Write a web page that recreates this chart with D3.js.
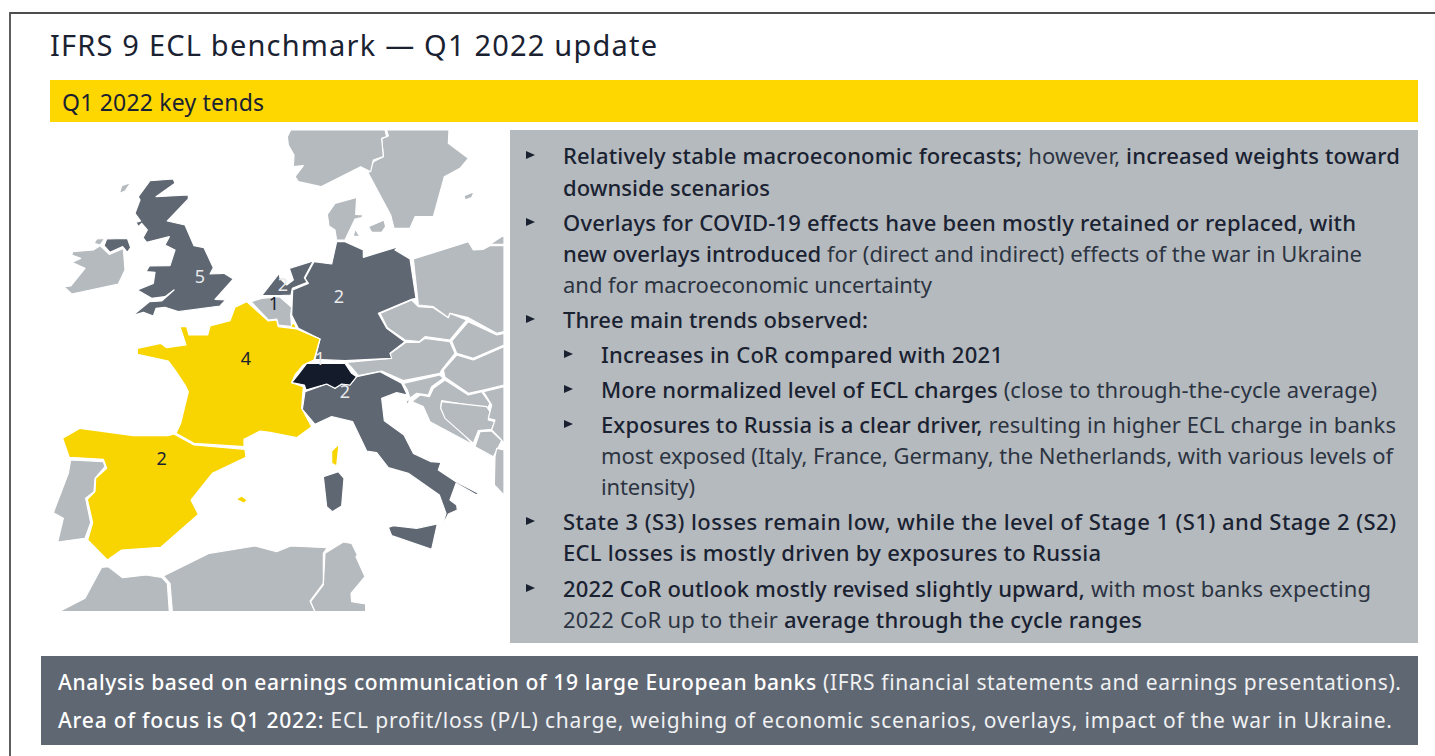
<!DOCTYPE html>
<html><head><meta charset="utf-8">
<script src="https://cdn.jsdelivr.net/npm/d3@7"></script>
<style>html,body{margin:0;padding:0;background:#fff;overflow:hidden}svg{display:block}</style>
</head><body><div id="chart"></div>
<script>
// --- Text content -------------------------------------------------------
const titleText = "IFRS 9 ECL benchmark — Q1 2022 update";
const subtitleText = "Q1 2022 key tends";
const bulletLines = [
  {level:1, first:true, parts:[["Relatively stable macroeconomic forecasts;",1],[" however, ",0],["increased weights toward",1]]},
  {level:1, parts:[["downside scenarios",1]]},
  {level:1, first:true, parts:[["Overlays for COVID-19 effects have been mostly retained or replaced, with",1]]},
  {level:1, parts:[["new overlays introduced",1],[" for (direct and indirect) effects of the war in Ukraine",0]]},
  {level:1, parts:[["and for macroeconomic uncertainty",0]]},
  {level:1, first:true, parts:[["Three main trends observed:",1]]},
  {level:2, first:true, parts:[["Increases in CoR compared with 2021",1]]},
  {level:2, first:true, parts:[["More normalized level of ECL charges",1],[" (close to through-the-cycle average)",0]]},
  {level:2, first:true, parts:[["Exposures to Russia is a clear driver,",1],[" resulting in higher ECL charge in banks",0]]},
  {level:2, parts:[["most exposed (Italy, France, Germany, the Netherlands, with various levels of",0]]},
  {level:2, parts:[["intensity)",0]]},
  {level:1, first:true, parts:[["State 3 (S3) losses remain low, while the level of Stage 1 (S1) and Stage 2 (S2)",1]]},
  {level:1, parts:[["ECL losses is mostly driven by exposures to Russia",1]]},
  {level:1, first:true, parts:[["2022 CoR outlook mostly revised slightly upward,",1],[" with most banks expecting",0]]},
  {level:1, parts:[["2022 CoR up to their ",0],["average through the cycle ranges",1]]}
];
const bulletBaselines = [164,196,231,262,293,328,363,398,433,464,495,530,561,597,628];
const bulletLineEnds = [1400,770,1356,1362,932,868,1003,1377,1396,1393,695,1396,1101,1371,1142];
const footerLines = [
  [["Analysis based on earnings communication of 19 large European banks",1],[" (IFRS financial statements and earnings presentations).",0]],
  [["Area of focus is Q1 2022:",1],[" ECL profit/loss (P/L) charge, weighing of economic scenarios, overlays, impact of the war in Ukraine.",0]]
];
const footerBaselines = [690,728];
const footerLineEnds = [1401,1392];

// --- Map data: outlines in map units, banks per country ------------------
const countryBanks = {UK:5, Netherlands:2, Belgium:1, Germany:2, France:4, Switzerland:1, Italy:2, Spain:2};
const labelSpots = [
  ["UK",450,455,"light"],["Netherlands",699,480,"light"],["Belgium",672,537,"dark"],["Germany",867,514,"light"],
  ["France",588,700,"dark"],["Switzerland",810,700,"light"],["Italy",885,800,"light"],["Spain",335,1000,"dark"]
];
const grey = [
 ["Ireland",[[68,380],[130,375],[150,362],[178,388],[220,370],[225,435],[205,477],[65,507],[42,485],[62,483],[105,430],[65,412],[92,400],[65,390]]],
 ["Donegal",[[140,342],[165,340],[150,360],[132,355]]],
 ["Hebrides",[[215,182],[243,172],[225,198],[208,206]]],
 ["Portugal",[[62,1005],[160,1010],[165,1025],[135,1060],[132,1100],[107,1120],[122,1193],[105,1240],[23,1251],[40,1180],[10,1163],[55,1045]]],
 ["Morocco",[[27,1460],[105,1420],[155,1327],[175,1325],[218,1358],[288,1350],[335,1357],[352,1375],[358,1460]]],
 ["Algeria",[[340,1353],[478,1285],[615,1263],[680,1280],[722,1263],[832,1268],[820,1285],[820,1375],[780,1428],[795,1460],[367,1460],[360,1375]]],
 ["Tunisia",[[825,1285],[880,1251],[905,1255],[922,1290],[918,1295],[945,1355],[903,1405],[905,1430],[947,1437],[947,1460],[795,1460],[782,1430],[820,1380]]],
 ["Belgium",[[603,530],[635,520],[688,515],[725,547],[722,570],[725,605],[685,600],[680,582],[655,585]]],
 ["Denmark",[[855,235],[920,217],[917,268],[940,270],[935,278],[915,282],[885,345],[860,345],[855,315],[837,303],[832,268]]],
 ["Zealand",[[955,305],[1002,285],[1007,305],[995,322],[965,322]]],
 ["Funen",[[915,312],[930,335],[910,333]]],
 ["Sweden",[[1010,15],[1197,15],[1195,55],[1255,100],[1230,130],[1183,155],[1150,275],[1095,275],[1080,310],[1032,310],[1022,270],[955,145],[970,110],[1000,95],[995,40],[1015,33]]],
 ["Norway",[[722,15],[1005,15],[1010,35],[995,40],[1000,95],[970,105],[962,140],[932,125],[813,185],[745,170],[735,155],[760,122],[730,125],[732,90],[715,60],[712,35]]],
 ["Gotland",[[1242,212],[1272,200],[1265,218],[1245,225]]],
 ["Poland",[[1090,402],[1255,350],[1270,375],[1300,373],[1320,362],[1362,362],[1362,620],[1340,625],[1255,578],[1200,565],[1195,578],[1150,545],[1105,540]]],
 ["Lithuania",[[1320,358],[1362,330],[1362,358]]],
 ["Czechia",[[990,565],[1085,525],[1105,545],[1150,548],[1195,578],[1200,565],[1250,585],[1200,645],[1125,635],[1108,650],[1065,645],[1012,608]]],
 ["Slovakia",[[1255,590],[1340,630],[1362,625],[1362,660],[1270,700],[1220,685],[1205,648]]],
 ["Austria",[[890,712],[1020,700],[1022,685],[1068,652],[1108,652],[1125,640],[1200,650],[1215,685],[1175,735],[1170,745],[1060,767],[995,738],[925,752],[905,728]]],
 ["Hungary",[[1220,690],[1270,705],[1362,665],[1362,780],[1300,795],[1255,805],[1185,757],[1180,735]]],
 ["Slovenia",[[1060,775],[1170,750],[1180,760],[1145,785],[1135,810],[1100,805],[1080,820],[1072,795]]],
 ["Croatia",[[1085,830],[1110,810],[1138,815],[1150,790],[1185,765],[1255,810],[1295,800],[1320,835],[1313,850],[1175,827],[1172,850],[1270,960],[1140,890],[1120,845]]],
 ["Istria",[[1068,827],[1080,823],[1072,842]]],
 ["Bosnia",[[1175,830],[1310,845],[1320,860],[1315,885],[1335,890],[1325,913],[1285,917],[1270,955],[1185,880],[1172,850]]],
 ["Serbia",[[1300,800],[1362,785],[1362,955],[1350,940],[1325,915],[1335,885],[1315,880],[1325,840]]],
 ["Montenegro",[[1290,920],[1325,918],[1355,947],[1330,995],[1275,965]]],
 ["Albania",[[1340,970],[1362,975],[1362,1110],[1333,1080],[1335,995]]]
];
const slate = [
 ["UK",[[300,167],[370,162],[375,175],[318,215],[415,210],[415,222],[352,288],[405,300],[432,362],[462,368],[490,428],[480,447],[522,445],[550,462],[495,523],[527,525],[510,543],[385,560],[345,547],[318,550],[310,573],[280,562],[247,572],[298,530],[335,528],[372,495],[345,515],[305,520],[262,495],[310,475],[315,442],[288,440],[298,423],[360,422],[375,375],[345,360],[358,335],[290,352],[279,338],[292,315],[275,295],[265,305],[258,292],[272,288],[255,265],[270,225],[265,215]]],
 ["N. Ireland",[[170,342],[232,340],[242,368],[232,382],[218,365],[180,382],[162,362]]],
 ["Netherlands",[[635,512],[685,448],[688,447],[690,460],[710,480],[730,465],[718,430],[790,408],[763,458],[772,472],[727,490],[723,510],[690,512]]],
 ["Germany",[[860,350],[885,350],[940,375],[940,397],[1045,365],[1035,375],[1080,402],[1098,520],[1085,523],[985,565],[1010,610],[1065,650],[1020,685],[1025,700],[885,707],[795,703],[810,642],[745,610],[725,570],[728,495],[775,475],[765,460],[792,410],[845,417]]],
 ["Italy",[[765,800],[830,777],[855,790],[875,777],[900,780],[920,755],[990,740],[1055,775],[1072,810],[1040,803],[995,820],[1003,887],[1062,930],[1090,985],[1143,1010],[1173,1012],[1165,1035],[1218,1070],[1285,1105],[1280,1110],[1218,1075],[1200,1125],[1220,1140],[1222,1155],[1195,1167],[1175,1207],[1188,1165],[1168,1110],[1075,1045],[1015,1028],[980,983],[950,978],[908,890],[845,875],[795,898],[757,853]]],
 ["Sardinia",[[820,1055],[865,1040],[882,1060],[875,1143],[847,1160],[830,1145]]],
 ["Sicily",[[1015,1207],[1030,1202],[1100,1210],[1162,1197],[1145,1273],[1025,1232]]]
];
const gold = [
 ["France",[[262,670],[332,655],[350,668],[408,660],[390,605],[410,605],[417,630],[473,630],[480,603],[540,587],[555,547],[590,530],[655,588],[680,585],[685,605],[740,612],[810,642],[792,705],[760,720],[735,750],[725,773],[760,785],[755,850],[785,905],[740,938],[660,922],[630,918],[582,943],[582,965],[432,955],[378,925],[392,895],[415,800],[405,780],[375,735],[355,708],[262,688]]],
 ["Luxembourg gap",[[730,590],[740,610],[722,606]]],
 ["Corsica",[[845,978],[867,957],[860,1023],[845,1015]]],
 ["Spain",[[38,940],[90,910],[250,932],[355,932],[372,927],[432,960],[585,973],[588,997],[487,1045],[423,1125],[445,1168],[332,1267],[215,1275],[172,1305],[113,1245],[128,1193],[112,1123],[135,1100],[137,1060],[170,1030],[160,1003],[58,997]]],
 ["Balearics",[[558,1123],[575,1113],[592,1125],[582,1135]]]
];
const navy = [
 ["Switzerland",[[745,748],[770,715],[885,715],[905,745],[920,755],[900,780],[875,777],[855,790],[830,777],[768,795],[763,780],[725,773]]]
];

// --- Drawing --------------------------------------------------------------
const W = 1435, H = 756;
const FONT = "'Noto Sans', sans-serif";
const svg = d3.select("#chart").append("svg").attr("width",W).attr("height",H)
  .style("font-family",FONT);

svg.append("path").attr("d",`M10,${H}V13H${W}`).attr("fill","none").attr("stroke","#4d4d4d").attr("stroke-width",1.8);
svg.append("rect").attr("x",50).attr("y",80).attr("width",1368).attr("height",42).attr("fill","#ffd700");
svg.append("rect").attr("x",510).attr("y",130).attr("width",908).attr("height",513).attr("fill","#b5babe");
svg.append("rect").attr("x",41).attr("y",656).attr("width",1377).attr("height",89).attr("fill","#5f6773");

function fitLine(sel, start, end){
  const n = sel.text().length;
  const w = sel.node().getComputedTextLength();
  sel.attr("letter-spacing", ((end-start)-w)/Math.max(1,n-1));
}
function addLine(x, y, parts, size, colors, end){
  const t = svg.append("text").attr("x",x).attr("y",y).attr("font-size",size);
  parts.forEach(([s,b])=>{
    t.append("tspan").text(s).attr("font-weight",b?460:400).attr("fill",b?colors[0]:colors[1]);
  });
  t.attr("xml:space","preserve").style("white-space","pre");
  fitLine(t,x,end);
  return t;
}
addLine(50,56,[[titleText,0]],29,["#1a2232","#1a2232"],657);
addLine(62,111,[[subtitleText,0]],23,["#1a2232","#1a2232"],264);

bulletLines.forEach((l,i)=>{
  const tx = l.level===1?563:601, bx = l.level===1?526:564, y = bulletBaselines[i];
  addLine(tx,y,l.parts,22,["#1a2232","#2c3442"],bulletLineEnds[i]);
  if(l.first){
    svg.append("path").attr("d",`M${bx},${y-13}L${bx+9},${y-9}L${bx},${y-5}Z`).attr("fill","#1a2232");
  }
});
footerLines.forEach((parts,i)=>{
  addLine(58,footerBaselines[i],parts,21,["#ffffff","#f0f1f2"],footerLineEnds[i]);
});

// Map
const mx = d3.scaleLinear().domain([0,1362]).range([50,504]);
const my = d3.scaleLinear().domain([0,1458]).range([125,611]);
const line = d3.line().x(d=>mx(d[0])).y(d=>my(d[1]));
const defs = svg.append("defs");
defs.append("clipPath").attr("id","mapclip").append("rect").attr("x",50).attr("y",130).attr("width",454).attr("height",481);
const mapG = svg.append("g").attr("clip-path","url(#mapclip)");
function layer(rows,fill){
  mapG.selectAll(null).data(rows).enter().append("path")
    .attr("data-name",d=>d[0])
    .attr("d",d=>line(d[1])+"Z").attr("fill",fill)
    .attr("stroke","#fff").attr("stroke-width",1.2).attr("stroke-linejoin","round");
}
layer(grey,"#b5babe");
layer(slate,"#5f6773");
layer(gold,"#f8d500");
layer(navy,"#141b2a");
svg.selectAll(null).data(labelSpots).enter().append("text")
  .attr("x",d=>mx(d[1])).attr("y",d=>my(d[2])).attr("dy","0.35em").attr("text-anchor","middle")
  .attr("font-size",18).attr("fill",d=>d[3]==="light"?"#e8eaec":"#1a2232")
  .text(d=>countryBanks[d[0]]);
</script></body></html>
